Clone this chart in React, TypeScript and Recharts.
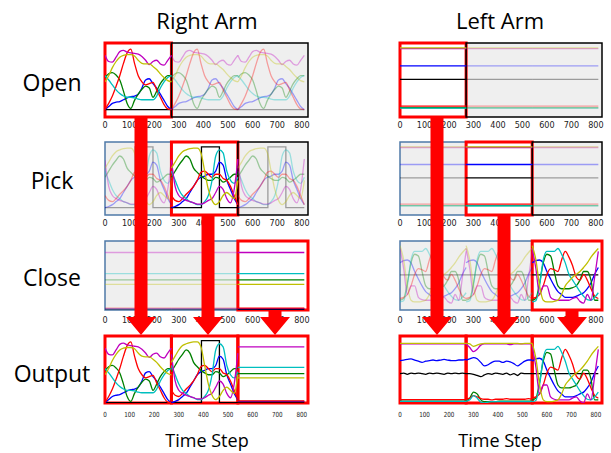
import React from "react";
import { LineChart, Line, XAxis, YAxis, ReferenceArea } from "recharts";

// sample positions inside one 270-step demo segment
const STEPS = [0, 15, 30, 45, 60, 75, 90, 105, 120, 135, 150, 165, 180, 195, 210, 225, 240, 255, 270];
const FLAT = [0, 270];
const X_MAX = 825;
const X_TICKS = [0, 100, 200, 300, 400, 500, 600, 700, 800];
const SEG_LEN = 270;

const COLORS: Record<string, string> = {
  k: "#000000",
  b: "#0000ff",
  g: "#008000",
  r: "#ff0000",
  c: "#00bfbf",
  m: "#bf00bf",
  y: "#bfbf00",
};
const ORDER = ["k", "b", "g", "r", "c", "m", "y"];

// right arm, "open" demo
const OPEN_R_M = [0.88, 0.78, 0.77, 0.85, 0.94, 0.96, 0.93, 0.92, 0.91, 0.9, 0.86, 0.8, 0.73, 0.78, 0.8, 0.74, 0.72, 0.8, 0.88];
const OPEN_R_Y = [0.45, 0.55, 0.68, 0.78, 0.85, 0.88, 0.89, 0.89, 0.87, 0.8, 0.75, 0.74, 0.74, 0.7, 0.65, 0.58, 0.52, 0.47, 0.45];
const OPEN_R_R = [0.0, 0.1, 0.22, 0.38, 0.55, 0.75, 0.92, 0.98, 0.75, 0.55, 0.45, 0.4, 0.42, 0.44, 0.32, 0.2, 0.08, 0.01, 0.0];
const OPEN_R_G = [0.52, 0.58, 0.6, 0.56, 0.48, 0.3, 0.1, 0.02, 0.15, 0.25, 0.33, 0.38, 0.35, 0.2, 0.3, 0.42, 0.5, 0.55, 0.55];
const OPEN_R_C = [0.55, 0.48, 0.4, 0.32, 0.26, 0.22, 0.2, 0.2, 0.19, 0.17, 0.16, 0.16, 0.16, 0.16, 0.22, 0.35, 0.45, 0.52, 0.55];
const OPEN_R_B = [0.0, 0.05, 0.1, 0.12, 0.13, 0.16, 0.19, 0.21, 0.22, 0.25, 0.35, 0.48, 0.5, 0.42, 0.35, 0.25, 0.15, 0.05, 0.0];
const OPEN_R_K = [0.0, 0.0];

// right arm, "pick" demo
const PICK_R_Y = [0.65, 0.75, 0.85, 0.92, 0.95, 0.97, 0.98, 0.98, 0.9, 0.6, 0.3, 0.12, 0.05, 0.1, 0.2, 0.25, 0.2, 0.15, 0.45];
const PICK_R_G = [0.5, 0.6, 0.7, 0.78, 0.85, 0.8, 0.65, 0.58, 0.52, 0.48, 0.45, 0.45, 0.5, 0.48, 0.42, 0.45, 0.5, 0.55, 0.55];
const PICK_R_R = [0.2, 0.12, 0.1, 0.15, 0.22, 0.28, 0.35, 0.45, 0.58, 0.6, 0.55, 0.5, 0.55, 0.55, 0.48, 0.45, 0.35, 0.2, 0.05];
const PICK_R_M = [0.78, 0.35, 0.2, 0.15, 0.12, 0.1, 0.08, 0.06, 0.06, 0.08, 0.12, 0.15, 0.25, 0.35, 0.3, 0.15, 0.08, 0.3, 0.8];
const PICK_R_C = [0.6, 0.45, 0.3, 0.2, 0.15, 0.1, 0.08, 0.05, 0.05, 0.1, 0.2, 0.45, 0.85, 0.95, 0.9, 0.6, 0.45, 0.4, 0.5];
const PICK_R_B = [0.0, 0.02, 0.05, 0.1, 0.15, 0.25, 0.35, 0.45, 0.5, 0.52, 0.55, 0.55, 0.6, 0.75, 0.7, 0.45, 0.3, 0.15, 0.05];
const PICK_R_K_T = [0, 122, 122, 195, 195, 270];
const PICK_R_K = [0.0, 0.0, 1.0, 1.0, 0.0, 0.0];

// right arm, "close" demo (held still)
const CLOSE_R_M = [0.9, 0.9];
const CLOSE_R_C = [0.57, 0.57];
const CLOSE_R_G = [0.47, 0.47];
const CLOSE_R_Y = [0.4, 0.4];
const CLOSE_R_R = [0.03, 0.03];
const CLOSE_R_B = [0.02, 0.02];
const CLOSE_R_K = [0.01, 0.01];

// left arm, "open" and "pick" demos (held still)
const OPEN_L_Y = [1.0, 1.0];
const OPEN_L_M = [0.99, 0.99];
const OPEN_L_B = [0.71, 0.71];
const OPEN_L_K = [0.49, 0.49];
const OPEN_L_R = [0.055, 0.055];
const OPEN_L_G = [0.03, 0.03];
const OPEN_L_C = [0.025, 0.025];

const PICK_L_Y = [1.0, 1.0];
const PICK_L_M = [0.99, 0.99];
const PICK_L_B = [0.71, 0.71];
const PICK_L_K = [0.49, 0.49];
const PICK_L_R = [0.06, 0.06];
const PICK_L_G = [0.035, 0.035];
const PICK_L_C = [0.03, 0.03];

// left arm, "close" demo
const CLOSE_L_Y = [1.0, 0.75, 0.3, 0.05, 0.02, 0.02, 0.03, 0.05, 0.15, 0.3, 0.38, 0.45, 0.5, 0.55, 0.62, 0.7, 0.8, 0.88, 0.95];
const CLOSE_L_M = [0.95, 0.6, 0.15, 0.3, 0.3, 0.1, 0.06, 0.05, 0.05, 0.05, 0.05, 0.08, 0.1, 0.03, 0.0, 0.15, 0.05, 0.45, 0.9];
const CLOSE_L_B = [0.7, 0.74, 0.75, 0.7, 0.55, 0.42, 0.3, 0.2, 0.15, 0.1, 0.1, 0.1, 0.12, 0.15, 0.18, 0.25, 0.35, 0.5, 0.62];
const CLOSE_L_G = [0.05, 0.08, 0.35, 0.7, 0.85, 0.82, 0.55, 0.3, 0.25, 0.25, 0.25, 0.27, 0.3, 0.4, 0.55, 0.55, 0.4, 0.05, 0.05];
const CLOSE_L_C = [0.02, 0.04, 0.3, 0.75, 0.9, 0.9, 0.9, 0.95, 0.85, 0.7, 0.5, 0.4, 0.3, 0.2, 0.12, 0.06, 0.05, 0.1, 0.18];
const CLOSE_L_R = [0.08, 0.1, 0.15, 0.3, 0.5, 0.6, 0.58, 0.55, 0.75, 0.9, 0.8, 0.65, 0.45, 0.4, 0.5, 0.4, 0.25, 0.12, 0.08];
const CLOSE_L_K = [0.49, 0.49];

// left arm output, first two segments (small wobbles)
const OUT_L_OPEN_B = [0.71, 0.72, 0.73, 0.74, 0.72, 0.7, 0.68, 0.7, 0.71, 0.72, 0.71, 0.72, 0.73, 0.72, 0.71, 0.71, 0.72, 0.72, 0.73];
const OUT_L_OPEN_K = [0.49, 0.5, 0.48, 0.5, 0.49, 0.5, 0.49, 0.48, 0.5, 0.49, 0.5, 0.49, 0.48, 0.5, 0.49, 0.5, 0.49, 0.5, 0.49];
const OUT_L_PICK_Y = [1.0, 0.99, 0.95, 0.97, 0.99, 1.0, 1.0, 1.0, 1.0, 1.0, 1.0, 1.0, 1.0, 1.0, 1.0, 0.99, 1.0, 1.0, 1.0];
const OUT_L_PICK_M = [0.99, 0.93, 0.86, 0.9, 0.97, 0.99, 0.99, 0.99, 0.99, 0.99, 0.99, 0.99, 0.98, 0.99, 0.99, 0.99, 0.99, 0.99, 0.99];
const OUT_L_PICK_B = [0.72, 0.74, 0.76, 0.74, 0.68, 0.62, 0.64, 0.68, 0.7, 0.7, 0.68, 0.7, 0.69, 0.66, 0.62, 0.66, 0.7, 0.72, 0.72];
const OUT_L_PICK_K = [0.49, 0.49, 0.48, 0.46, 0.44, 0.47, 0.49, 0.48, 0.5, 0.49, 0.48, 0.5, 0.47, 0.49, 0.46, 0.5, 0.49, 0.49, 0.49];
const OUT_L_PICK_G = [0.03, 0.08, 0.18, 0.15, 0.05, 0.02, 0.02, 0.02, 0.02, 0.03, 0.03, 0.03, 0.03, 0.03, 0.03, 0.03, 0.03, 0.03, 0.03];
const OUT_L_PICK_R = [0.06, 0.08, 0.12, 0.1, 0.07, 0.06, 0.06, 0.05, 0.06, 0.06, 0.06, 0.07, 0.06, 0.06, 0.06, 0.06, 0.06, 0.07, 0.06];
const OUT_L_PICK_C = [0.025, 0.05, 0.12, 0.08, 0.01, 0.0, 0.01, 0.02, 0.02, 0.02, 0.02, 0.02, 0.02, 0.02, 0.02, 0.02, 0.02, 0.02, 0.03];

type Seg = Record<string, [number[], number[]]>;

const on = (v: number[]): [number[], number[]] => [v.length === 2 ? FLAT : STEPS, v];

const OPEN_R: Seg = { k: on(OPEN_R_K), b: on(OPEN_R_B), g: on(OPEN_R_G), r: on(OPEN_R_R), c: on(OPEN_R_C), m: on(OPEN_R_M), y: on(OPEN_R_Y) };
const PICK_R: Seg = { k: [PICK_R_K_T, PICK_R_K], b: on(PICK_R_B), g: on(PICK_R_G), r: on(PICK_R_R), c: on(PICK_R_C), m: on(PICK_R_M), y: on(PICK_R_Y) };
const CLOSE_R: Seg = { k: on(CLOSE_R_K), b: on(CLOSE_R_B), g: on(CLOSE_R_G), r: on(CLOSE_R_R), c: on(CLOSE_R_C), m: on(CLOSE_R_M), y: on(CLOSE_R_Y) };
const OPEN_L: Seg = { k: on(OPEN_L_K), b: on(OPEN_L_B), g: on(OPEN_L_G), r: on(OPEN_L_R), c: on(OPEN_L_C), m: on(OPEN_L_M), y: on(OPEN_L_Y) };
const PICK_L: Seg = { k: on(PICK_L_K), b: on(PICK_L_B), g: on(PICK_L_G), r: on(PICK_L_R), c: on(PICK_L_C), m: on(PICK_L_M), y: on(PICK_L_Y) };
const CLOSE_L: Seg = { k: on(CLOSE_L_K), b: on(CLOSE_L_B), g: on(CLOSE_L_G), r: on(CLOSE_L_R), c: on(CLOSE_L_C), m: on(CLOSE_L_M), y: on(CLOSE_L_Y) };
const OUT_L_OPEN: Seg = { ...OPEN_L, b: on(OUT_L_OPEN_B), k: on(OUT_L_OPEN_K) };
const OUT_L_PICK: Seg = { k: on(OUT_L_PICK_K), b: on(OUT_L_PICK_B), g: on(OUT_L_PICK_G), r: on(OUT_L_PICK_R), c: on(OUT_L_PICK_C), m: on(OUT_L_PICK_M), y: on(OUT_L_PICK_Y) };

const RED = "#ff0000";
const BLUE_EDGE = "#4f7aa8";

type Region = { x1: number; x2: number; edge: string; shade: boolean };

const OPEN_REGIONS: Region[] = [
  { x1: 0, x2: 270, edge: RED, shade: false },
  { x1: 270, x2: X_MAX, edge: "#000", shade: true },
];
const PICK_REGIONS: Region[] = [
  { x1: 0, x2: 270, edge: BLUE_EDGE, shade: true },
  { x1: 270, x2: 540, edge: RED, shade: false },
  { x1: 540, x2: X_MAX, edge: "#000", shade: true },
];
const CLOSE_REGIONS: Region[] = [
  { x1: 0, x2: 540, edge: BLUE_EDGE, shade: true },
  { x1: 540, x2: X_MAX, edge: RED, shade: false },
];
const OUT_REGIONS: Region[] = [
  { x1: 0, x2: 270, edge: RED, shade: false },
  { x1: 270, x2: 540, edge: RED, shade: false },
  { x1: 540, x2: X_MAX, edge: RED, shade: false },
];

function repeat(seg: Seg, lit: number) {
  return [0, 1, 2].map((i) => ({ seg, offset: i * SEG_LEN, faded: i !== lit }));
}

function StepTick(props: any) {
  const { x, y, payload, size, squeeze } = props;
  return (
    <g transform={`translate(${x},${y})`}>
      <text
        transform={`scale(${squeeze},1)`}
        textAnchor="middle"
        y={size * 0.74}
        fontSize={size}
        fontFamily="DejaVu Sans"
        fill="#222"
      >
        {payload.value}
      </text>
    </g>
  );
}

interface PanelProps {
  left: number;
  top: number;
  width: number;
  height: number;
  domain: [number, number];
  copies: { seg: Seg; offset: number; faded: boolean }[];
  regions: Region[];
  small?: boolean;
  tickGap: number;
}

function Panel({ left, top, width, height, domain, copies, regions, small, tickGap }: PanelProps) {
  const pad = 14;
  const axisH = 22;
  const size = small ? 7 : 9.5;
  const squeeze = small ? 0.8 : 0.85;
  return (
    <div style={{ position: "absolute", left: left - pad, top: top - 4 }}>
      <LineChart
        width={width + pad * 2}
        height={height + 4 + axisH}
        margin={{ top: 4, right: pad, bottom: 0, left: pad }}
      >
        <XAxis
          dataKey="t"
          type="number"
          domain={[0, X_MAX]}
          ticks={X_TICKS}
          interval={0}
          allowDataOverflow
          axisLine={false}
          tickLine={false}
          tickSize={0}
          tickMargin={tickGap}
          height={axisH}
          tick={(p: any) => <StepTick {...p} size={size} squeeze={squeeze} />}
        />
        <YAxis hide type="number" domain={domain} allowDataOverflow />
        {regions
          .filter((r) => r.shade)
          .map((r) => (
            <ReferenceArea key={`s${r.x1}`} x1={r.x1} x2={r.x2} fill="#efefef" fillOpacity={1} stroke="none" />
          ))}
        {copies.flatMap((cp, ci) =>
          ORDER.map((k) => {
            const [ts, vs] = cp.seg[k];
            const pts = ts.map((t, i) => ({ t: t + cp.offset, v: vs[i] }));
            return (
              <Line
                key={`${ci}-${k}`}
                data={pts}
                dataKey="v"
                name={`${ci}-${k}`}
                type={ts === STEPS ? "monotone" : "linear"}
                stroke={COLORS[k]}
                strokeOpacity={cp.faded ? 0.35 : 1}
                strokeWidth={1.3}
                dot={false}
                activeDot={false}
                isAnimationActive={false}
              />
            );
          })
        )}
        {regions.map((r) => (
          <ReferenceArea
            key={`e${r.x1}`}
            x1={r.x1}
            x2={r.x2}
            fill="none"
            stroke={r.edge}
            strokeWidth={r.edge === RED ? 3 : 1.5}
          />
        ))}
      </LineChart>
    </div>
  );
}

const ARROWS = [
  { cx: 141, y0: 117 },
  { cx: 208, y0: 215 },
  { cx: 275, y0: 310 },
  { cx: 437, y0: 117 },
  { cx: 504, y0: 215 },
  { cx: 572, y0: 310 },
];

function arrowPoints(cx: number, y0: number) {
  const s = 6.5;
  const h = 15;
  const yh = 317;
  const tip = 335;
  return `${cx - s},${y0} ${cx + s},${y0} ${cx + s},${yh} ${cx + h},${yh} ${cx},${tip} ${cx - h},${yh} ${cx - s},${yh}`;
}

const label = (text: string, cx: number, cy: number, size: number) => (
  <div
    key={text + cx + cy}
    style={{
      position: "absolute",
      left: cx - 80,
      top: cy - 16,
      width: 160,
      height: 32,
      lineHeight: "32px",
      textAlign: "center",
      fontFamily: "'Open Sans', sans-serif",
      fontSize: size,
      color: "#000",
    }}
  >
    {text}
  </div>
);

const COL_R = { left: 105, width: 203 };
const COL_L = { left: 400, width: 202 };

export default function App() {
  return (
    <div style={{ position: "absolute", left: 0, top: 0, width: 611, height: 453, background: "#fff", overflow: "hidden" }}>
      {label("Right Arm", 207, 20, 22)}
      {label("Left Arm", 500, 20, 22)}
      {label("Open", 52, 82, 23)}
      {label("Pick", 52, 180, 23)}
      {label("Close", 52, 277, 23)}
      {label("Output", 52, 373, 23)}
      {label("Time Step", 207, 440, 18)}
      {label("Time Step", 500, 440, 18)}

      <Panel {...COL_R} top={43} height={74} domain={[-0.12, 1.08]} copies={repeat(OPEN_R, 0)} regions={OPEN_REGIONS} tickGap={4} />
      <Panel {...COL_R} top={142} height={73} domain={[-0.12, 1.08]} copies={repeat(PICK_R, 1)} regions={PICK_REGIONS} tickGap={4} />
      <Panel {...COL_R} top={241} height={69} domain={[0, 1.08]} copies={repeat(CLOSE_R, 2)} regions={CLOSE_REGIONS} tickGap={6} />
      <Panel
        {...COL_R}
        top={336}
        height={67}
        domain={[-0.005, 1.075]}
        copies={[
          { seg: OPEN_R, offset: 0, faded: false },
          { seg: PICK_R, offset: 270, faded: false },
          { seg: CLOSE_R, offset: 540, faded: false },
        ]}
        regions={OUT_REGIONS}
        small
        tickGap={9}
      />

      <Panel {...COL_L} top={43} height={74} domain={[-0.12, 1.08]} copies={repeat(OPEN_L, 0)} regions={OPEN_REGIONS} tickGap={4} />
      <Panel {...COL_L} top={142} height={73} domain={[-0.12, 1.08]} copies={repeat(PICK_L, 1)} regions={PICK_REGIONS} tickGap={4} />
      <Panel {...COL_L} top={241} height={69} domain={[-0.12, 1.08]} copies={repeat(CLOSE_L, 2)} regions={CLOSE_REGIONS} tickGap={6} />
      <Panel
        {...COL_L}
        top={336}
        height={67}
        domain={[-0.003, 1.124]}
        copies={[
          { seg: OUT_L_OPEN, offset: 0, faded: false },
          { seg: OUT_L_PICK, offset: 270, faded: false },
          { seg: CLOSE_L, offset: 540, faded: false },
        ]}
        regions={OUT_REGIONS}
        small
        tickGap={9}
      />

      <svg width={611} height={453} style={{ position: "absolute", left: 0, top: 0, pointerEvents: "none" }}>
        {ARROWS.map((a) => (
          <polygon key={a.cx} points={arrowPoints(a.cx, a.y0)} fill={RED} />
        ))}
      </svg>
    </div>
  );
}
